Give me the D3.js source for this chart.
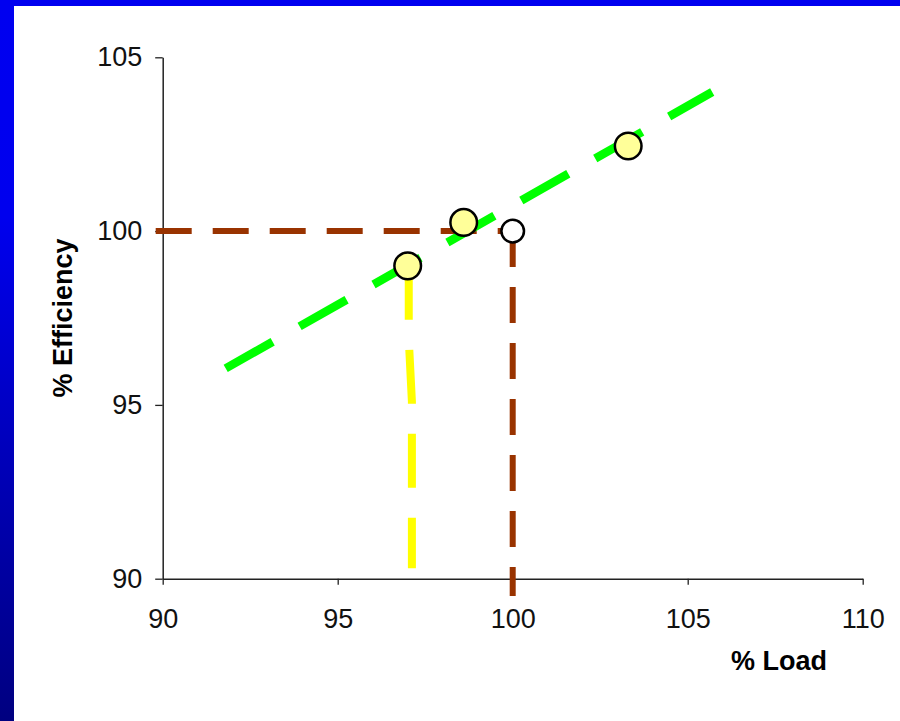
<!DOCTYPE html>
<html>
<head>
<meta charset="utf-8">
<script src="https://cdn.jsdelivr.net/npm/d3@7"></script>
<style>
  html, body { margin: 0; padding: 0; background: #fff; }
  svg { display: block; }
</style>
</head>
<body>
<svg id="chart" width="900" height="721"></svg>
<script>
// Measured operating points (% load vs % efficiency)
const loadPoints = [97.0, 98.6, 103.3];
const effPoints = [99.0, 100.25, 102.45];

// Rated point
const ratedLoad = [100];
const ratedEff = [100];

// Fitted trend line end points
const trendLoad = [91.8, 105.7];
const trendEff = [96.05, 104.0];

// Guide from the efficiency axis to the rated point, then down to the load axis
const guideHLoad = [89.8, 100];
const guideHEff = [100, 100];
const guideVLoad = [100, 100];
const guideVEff = [100, 89.5];

// Drop line from the first operating point to the load axis
const dropLoad = [97.03, 97.03, 97.12, 97.12];
const dropEff = [99.0, 96.9, 95.1, 90.3];

// Axis ticks
const xTicks = [90, 95, 100, 105, 110];
const yTicks = [90, 95, 100, 105];

const svg = d3.select("#chart");
const W = 900, H = 721;
const font = "'Liberation Sans', Arial, sans-serif";

svg.append("rect").attr("width", W).attr("height", H).attr("fill", "#fff");

// Slide frame: blue bar along the top, graded bar down the left side
const defs = svg.append("defs");
const grad = defs.append("linearGradient").attr("id", "sideGrad")
  .attr("x1", 0).attr("y1", 0).attr("x2", 0).attr("y2", 1);
grad.append("stop").attr("offset", "0%").attr("stop-color", "#0000f0");
grad.append("stop").attr("offset", "30%").attr("stop-color", "#0000ee");
grad.append("stop").attr("offset", "100%").attr("stop-color", "#000080");
svg.append("rect").attr("x", 0).attr("y", 0).attr("width", W).attr("height", 6).attr("fill", "#0000f0");
svg.append("rect").attr("x", 0).attr("y", 0).attr("width", 14).attr("height", H).attr("fill", "url(#sideGrad)");

const x = d3.scaleLinear().domain([90, 110]).range([162.7, 862.7]);
const y = d3.scaleLinear().domain([90, 105]).range([578.7, 57.3]);

// Axes
const xAxis = svg.append("g")
  .attr("transform", `translate(0,${y(90)})`)
  .call(d3.axisBottom(x).tickValues(xTicks).tickSize(6).tickSizeOuter(0).tickPadding(24).tickFormat(d3.format("d")));
const yAxis = svg.append("g")
  .attr("transform", `translate(${x(90)},0)`)
  .call(d3.axisLeft(y).tickValues(yTicks).tickSize(7.5).tickSizeOuter(0).tickPadding(13).tickFormat(d3.format("d")));

[xAxis, yAxis].forEach(g => {
  g.select(".domain").attr("stroke", "#222").attr("stroke-width", 1.5);
  g.selectAll(".tick line").attr("stroke", "#222").attr("stroke-width", 1.3);
  g.selectAll(".tick text")
    .attr("fill", "#111")
    .style("font-family", font)
    .style("font-size", "27px");
});

// Axis titles
svg.append("text")
  .attr("x", 827).attr("y", 670)
  .attr("text-anchor", "end")
  .style("font-family", font).style("font-size", "27px").style("font-weight", "bold")
  .attr("fill", "#000")
  .text("% Load");
svg.append("text")
  .attr("transform", `translate(72,${(y(90) + y(105)) / 2}) rotate(-90)`)
  .attr("text-anchor", "middle")
  .style("font-family", font).style("font-size", "27px").style("font-weight", "bold")
  .attr("fill", "#000")
  .text("% Efficiency");

const line = d3.line().x(d => x(d[0])).y(d => y(d[1]));
const zip = (a, b) => a.map((v, i) => [v, b[i]]);

// Brown guide lines
svg.append("path").datum(zip(guideHLoad, guideHEff)).attr("d", line)
  .attr("fill", "none").attr("stroke", "#993300").attr("stroke-width", 6)
  .attr("stroke-dasharray", "36,21");
svg.append("path").datum(zip(guideVLoad, guideVEff)).attr("d", line)
  .attr("fill", "none").attr("stroke", "#993300").attr("stroke-width", 6)
  .attr("stroke-dasharray", "36,20");

// Yellow drop line
svg.append("path").datum(zip(dropLoad, dropEff)).attr("d", line)
  .attr("fill", "none").attr("stroke", "#ffff00").attr("stroke-width", 8)
  .attr("stroke-linejoin", "miter")
  .attr("stroke-dasharray", "54,30");

// Green trend line
svg.append("path").datum(zip(trendLoad, trendEff)).attr("d", line)
  .attr("fill", "none").attr("stroke", "#00ff00").attr("stroke-width", 8.5)
  .attr("stroke-dasharray", "54,31");

// Rated point
svg.selectAll("circle.rated").data(zip(ratedLoad, ratedEff)).enter()
  .append("circle").attr("class", "rated")
  .attr("cx", d => x(d[0])).attr("cy", d => y(d[1])).attr("r", 11.3)
  .attr("fill", "#fff").attr("stroke", "#000").attr("stroke-width", 2.5);

// Operating points
svg.selectAll("circle.pt").data(zip(loadPoints, effPoints)).enter()
  .append("circle").attr("class", "pt")
  .attr("cx", d => x(d[0])).attr("cy", d => y(d[1])).attr("r", 13.3)
  .attr("fill", "#ffff99").attr("stroke", "#000").attr("stroke-width", 2.5);
</script>
</body>
</html>
